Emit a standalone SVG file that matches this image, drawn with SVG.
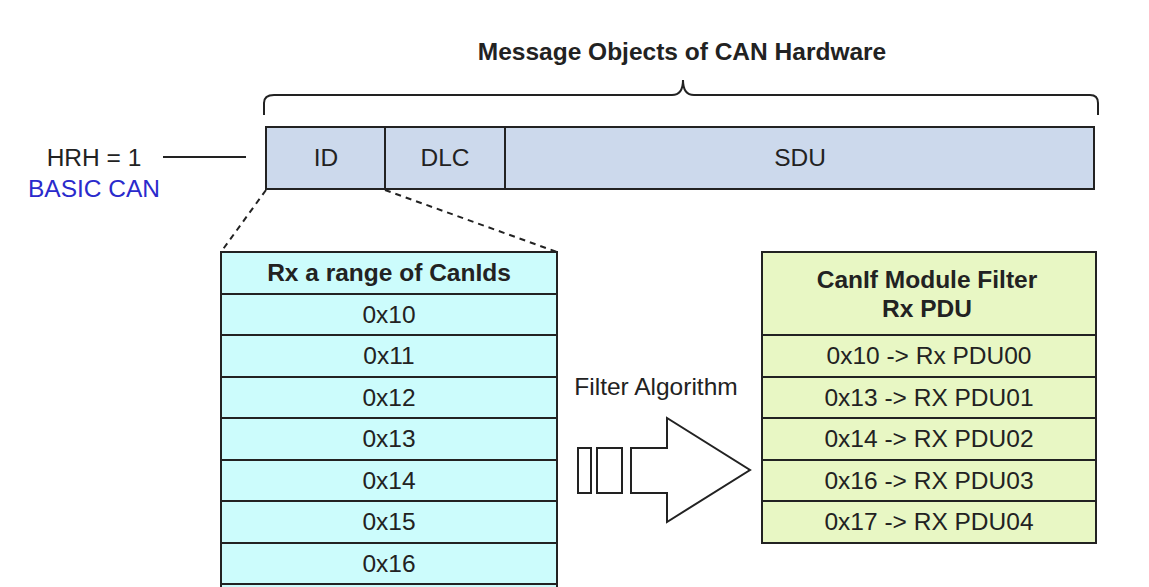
<svg xmlns="http://www.w3.org/2000/svg" width="1149" height="587" viewBox="0 0 1149 587">
<style>
text{font-family:"Liberation Sans",Arial,sans-serif;font-size:24.5px;fill:#222;text-anchor:middle}
.b{font-weight:bold}
.cell{stroke:#222;stroke-width:2}
.blue{fill:#ccd9ec}.cyan{fill:#ccfcfc}.green{fill:#e8f7c4}
</style>
<rect width="1149" height="587" fill="#fff"/>
<text class="b" x="682" y="60">Message Objects of CAN Hardware</text>
<path d="M264,115 V103 Q264,95 274,95 H672 Q683,95 683,80 Q683,95 694,95 H1090 Q1098,95 1098,103 V115" fill="none" stroke="#222" stroke-width="2"/>
<g id="hrh">
<text x="94" y="166">HRH = 1</text>
<text x="94" y="197" style="fill:#2a2acc">BASIC CAN</text>
</g>
<g id="frame">
<rect class="cell blue" x="266" y="127" width="828" height="62"/>
<line class="cell" x1="385" y1="127" x2="385" y2="189"/>
<line class="cell" x1="505" y1="127" x2="505" y2="189"/>
<text x="326" y="166">ID</text><text x="445" y="166">DLC</text><text x="800" y="166">SDU</text>
</g>
<g id="connectors" stroke="#222" stroke-width="2" fill="none">
<line x1="163" y1="157" x2="246" y2="157"/>
<line x1="266" y1="190" x2="221" y2="252" stroke-dasharray="6,5"/>
<line x1="385" y1="190" x2="557" y2="252" stroke-dasharray="6,5"/>
</g>
<g id="canids">
<rect class="cell cyan" x="221" y="252" width="336" height="345"/>
<line class="cell" x1="221" y1="294" x2="557" y2="294"/>
<line class="cell" x1="221" y1="335" x2="557" y2="335"/>
<line class="cell" x1="221" y1="377" x2="557" y2="377"/>
<line class="cell" x1="221" y1="418" x2="557" y2="418"/>
<line class="cell" x1="221" y1="460" x2="557" y2="460"/>
<line class="cell" x1="221" y1="501" x2="557" y2="501"/>
<line class="cell" x1="221" y1="543" x2="557" y2="543"/>
<line class="cell" x1="221" y1="584" x2="557" y2="584"/>
<text class="b" x="389" y="281">Rx a range of CanIds</text>
<text x="389" y="323">0x10</text><text x="389" y="364">0x11</text><text x="389" y="406">0x12</text>
<text x="389" y="447">0x13</text><text x="389" y="489">0x14</text><text x="389" y="530">0x15</text>
<text x="389" y="572">0x16</text>
</g>
<g id="filter">
<text x="656" y="395">Filter Algorithm</text>
<g fill="#fff" stroke="#222" stroke-width="2">
<rect x="578" y="448" width="13" height="45"/>
<rect x="597" y="448" width="25" height="45"/>
<path d="M631,448 H667 V418 L750,470 L667,522 V493 H631 Z"/>
</g>
</g>
<g id="pdu">
<rect class="cell green" x="762" y="252" width="334" height="291"/>
<line class="cell" x1="762" y1="335" x2="1096" y2="335"/>
<line class="cell" x1="762" y1="377" x2="1096" y2="377"/>
<line class="cell" x1="762" y1="418" x2="1096" y2="418"/>
<line class="cell" x1="762" y1="460" x2="1096" y2="460"/>
<line class="cell" x1="762" y1="501" x2="1096" y2="501"/>
<text class="b" x="927" y="288">CanIf Module Filter</text>
<text class="b" x="927" y="317">Rx PDU</text>
<text x="929" y="364">0x10 -&gt; Rx PDU00</text>
<text x="929" y="406">0x13 -&gt; RX PDU01</text>
<text x="929" y="447">0x14 -&gt; RX PDU02</text>
<text x="929" y="489">0x16 -&gt; RX PDU03</text>
<text x="929" y="530">0x17 -&gt; RX PDU04</text>
</g>
</svg>
